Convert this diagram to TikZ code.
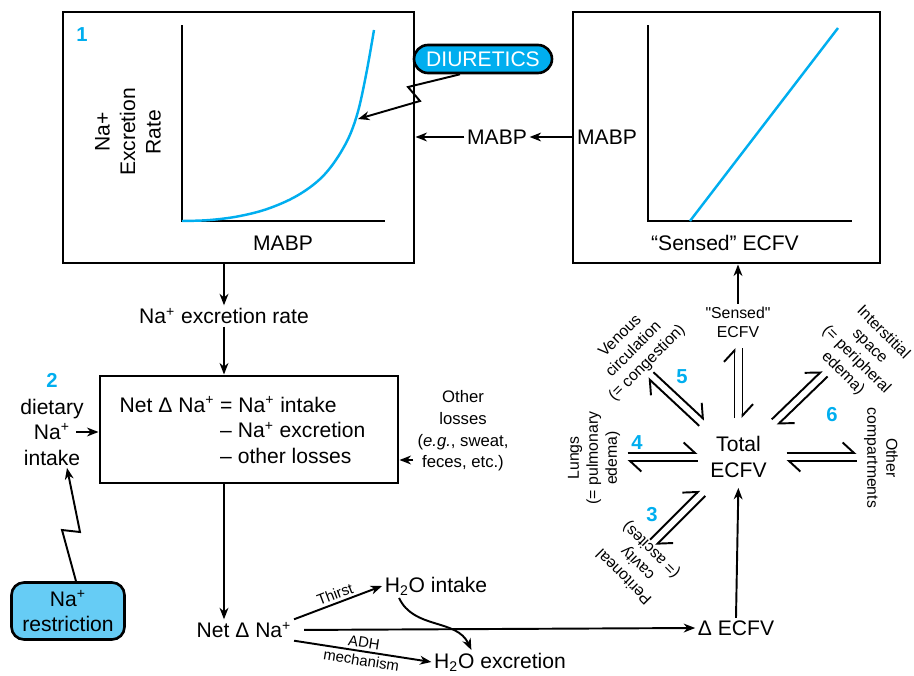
\documentclass[tikz,border=0pt]{standalone}
\usepackage{fontspec}
\setmainfont{Liberation Sans}
\usetikzlibrary{arrows.meta,calc,fit}
\definecolor{cyanA}{RGB}{0,174,239}
\definecolor{cyanB}{RGB}{102,204,245}
\newcommand\Nap{Na\textsuperscript{+}}
\begin{document}
\begin{tikzpicture}[x=0.02cm,y=0.02cm,>={Stealth[length=6.5pt,width=5pt,inset=2pt]},line width=1.1pt,
every node/.style={font=\fontsize{12}{14.5}\selectfont,inner sep=1pt,align=center},
frame/.style={draw,line width=1.7pt,inner sep=0pt},ax/.style={line width=1.6pt},
pill/.style={draw,line width=1.5pt},num/.style={text=cyanA,font=\fontsize{11.5}{13}\selectfont\bfseries},
sm/.style={font=\fontsize{9}{10.8}\selectfont},xs/.style={font=\fontsize{9.5}{12.3}\selectfont},
lbl/.style={font=\fontsize{8.5}{9.5}\selectfont,inner sep=1.5pt},
hp/.style={-{Straight Barb[harpoon,length=6.5pt,width=12pt]}}]
\useasboundingbox (0,0) rectangle (914,-676);
\node[frame,fit={(63,-12) (414,-263)}] (g1) {};
\draw[ax] (182,-25) -- (182,-221) -- (385,-221);
\draw[cyanA,line width=1.4pt] plot[smooth,tension=0.6] coordinates {(182,-221) (210,-220) (240,-216) (270,-208) (300,-194) (325,-174) (345,-145) (357,-115) (366,-75) (374,-30)};
\node[num] (n1) at (82,-35) {1};\node[rotate=90] (yl1) at (128,-132) {Na+\\Excretion\\Rate};\node (xl1) at (283,-243) {MABP};
\coordinate (cv) at (358,-119);
\node[frame,fit={(573,-12) (880,-263)}] (g2) {};
\draw[ax] (648,-25) -- (648,-221) -- (852,-221);
\draw[cyanA,line width=1.4pt] (690,-221) -- (838,-28);
\node (yl2) at (607,-137) {MABP};\node (xl2) at (725,-243) {“Sensed” ECFV};
\node[pill,fill=cyanA,text=white,minimum width=2.76cm,minimum height=0.56cm,rounded corners=0.28cm] (diu) at (483,-59) {DIURETICS};
\draw[->] ([xshift=-0.46cm]diu.south) -- (408,-87) -- (420,-101) -- (cv);
\node (mab) at (497,-137) {MABP};
\draw[->] (mab) -- (g1.east |- mab);\draw[->] (g2.west |- mab) -- (mab);
\node (exr) at (224,-316) {\Nap{} excretion rate};
\node[frame,fit={(100,-376) (398,-483)}] (net) {};
\draw[->] (g1.south -| exr) -- (exr);\draw[->] (exr) -- (net.north -| exr);
\node[anchor=west,align=left] (eq) at (117,-430) {Net Δ \Nap{} = \Nap{} intake\\\phantom{Net Δ \Nap{} }– \Nap{} excretion\\\phantom{Net Δ \Nap{} }– other losses};
\node[num] (n2) at (52,-380) {2};\node (diet) at (52,-432) {dietary\\\Nap\\intake};
\coordinate (di) at (76,-432);\draw[->] (di) -- (net.west |- di);
\node[xs] (oth) at (463,-431) {Other\\losses\\(\textit{e.g.}, sweat,\\feces, etc.)};
\coordinate (ol) at (413,-460);\draw[->] (ol) -- (net.east |- ol);
\node[pill,fill=cyanB,minimum width=2.26cm,minimum height=1.14cm,rounded corners=0.25cm] (rst) at (68,-611) {\Nap\\restriction};
\draw[->] ([xshift=0.16cm]rst.north) -- (62,-530) -- (80,-532) -- ([xshift=0.3cm]diet.south);
\node (nna) at (244,-630) {Net Δ \Nap};
\node (h2i) at (436,-586) {H\textsubscript{2}O intake};\node (h2e) at (500,-662) {H\textsubscript{2}O excretion};
\node (dec) at (736,-628) {Δ ECFV};
\draw[->] (net.south -| exr) -- (exr |- nna.north);
\draw[->,shorten <=0.2cm] (nna.east) -- (dec.west);
\draw[->] (nna.north east) -- node[lbl,sloped,above]{Thirst} (h2i.west);
\draw[->] (nna.south east) -- node[lbl,sloped,above]{ADH} node[lbl,sloped,below]{mechanism} (h2e.west);
\draw[->] ([xshift=0.34cm]h2i.south west) to[out=-65,in=115] ([xshift=0.8cm]h2e.north west);
\node[font=\fontsize{12}{14.7}\selectfont] (tot) at (738.5,-457) {Total\\ECFV};
\draw[->,shorten >=0.15cm] (dec.north) -- (tot.south);
\node[sm] (sen) at (738,-322) {\textquotedbl Sensed\textquotedbl\\ECFV};
\draw[->] (sen) -- (g2.south -| sen);
\foreach \a/\r in {90/39,180/41,0/48,137/50,44/50,225/51}{
\draw[hp] ($(tot.center)+(\a:\r)+(\a+90:4)$) -- ($(tot.center)+(\a:\r+70)+(\a+90:4)$);
\draw[hp] ($(tot.center)+(\a:\r+70)+(\a-90:4)$) -- ($(tot.center)+(\a:\r)+(\a-90:4)$);}
\node[sm,rotate=45] (ven) at (634,-350) {Venous\\circulation\\(= congestion)};
\node[sm,rotate=-45] (ins) at (863,-353) {Interstitial\\space\\(= peripheral\\edema)};
\node[sm,rotate=90] (lun) at (594,-458) {Lungs\\(= pulmonary\\edema)};
\node[sm,rotate=-90] (otc) at (881,-458) {Other\\compartments};
\node[sm,rotate=135] (per) at (638,-563) {Peritoneal\\cavity\\(= ascites)};
\node[num] (n3) at (652,-515) {3};\node[num] (n4) at (637,-443) {4};\node[num] (n5) at (682,-377) {5};\node[num] (n6) at (832,-415) {6};
\end{tikzpicture}
\end{document}
